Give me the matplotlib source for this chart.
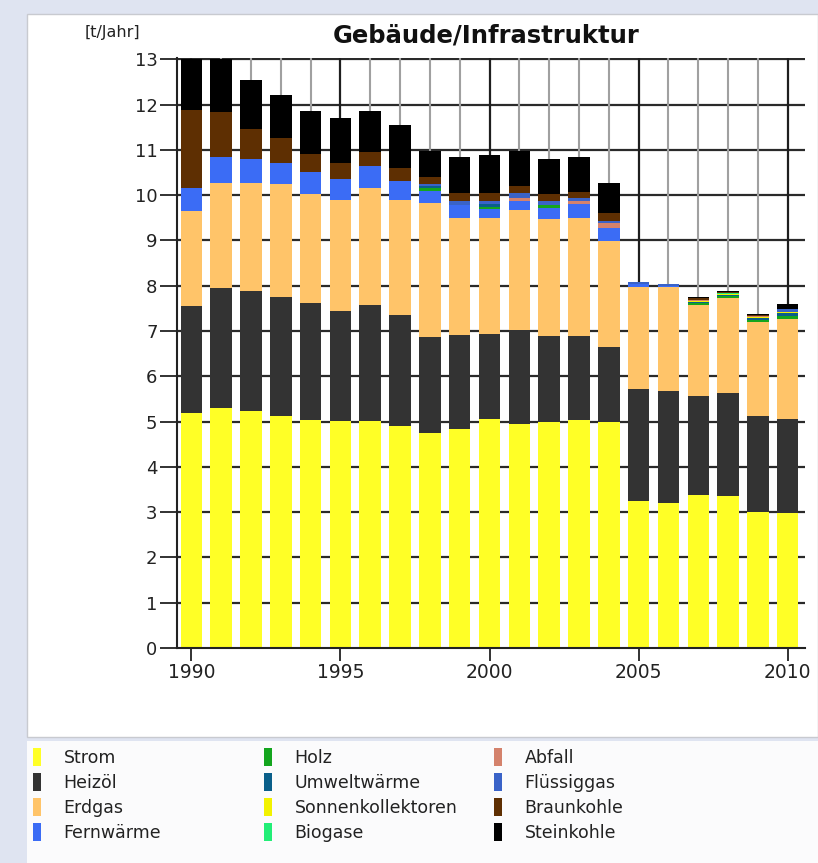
import matplotlib
matplotlib.use("Agg")
import matplotlib.pyplot as plt
from matplotlib.patches import Rectangle, Patch
import numpy as np

years = list(range(1990, 2011))

strom = [5.18, 5.31, 5.23, 5.12, 5.04, 5.02, 5.01, 4.91, 4.75, 4.84, 5.06,
         4.95, 5.00, 5.04, 4.99, 3.25, 3.20, 3.39, 3.36, 3.00, 2.98]
heizoel = [2.38, 2.65, 2.66, 2.64, 2.58, 2.43, 2.56, 2.44, 2.12, 2.07, 1.87,
           2.07, 1.90, 1.86, 1.65, 2.47, 2.48, 2.18, 2.28, 2.13, 2.08]
erdgas = [2.09, 2.32, 2.39, 2.48, 2.40, 2.44, 2.60, 2.54, 2.95, 2.58, 2.56,
          2.65, 2.57, 2.59, 2.35, 2.26, 2.29, 2.00, 2.09, 2.08, 2.20]
fernwaerme = [0.52, 0.56, 0.53, 0.48, 0.49, 0.47, 0.47, 0.42, 0.27, 0.29, 0.21,
              0.20, 0.25, 0.31, 0.28, 0.05, 0.03, 0.00, 0.00, 0.00, 0.00]
holz = [0, 0, 0, 0, 0, 0, 0, 0, 0.06, 0, 0.05,
        0, 0.06, 0, 0, 0, 0, 0.04, 0.04, 0.04, 0.07]
umweltwaerme = [0, 0, 0, 0, 0, 0, 0, 0, 0.05, 0, 0.05,
                0, 0, 0, 0, 0, 0, 0.03, 0.03, 0.03, 0.06]
sonnenkollektoren = [0, 0, 0, 0, 0, 0, 0, 0, 0, 0, 0,
                     0, 0, 0, 0, 0, 0, 0.02, 0.02, 0.02, 0.02]
biogase = [0, 0, 0, 0, 0, 0, 0, 0, 0, 0, 0,
           0, 0, 0, 0, 0, 0, 0.01, 0.01, 0.01, 0]
abfall = [0, 0, 0, 0, 0, 0, 0, 0, 0, 0, 0,
          0.06, 0, 0.07, 0.12, 0, 0, 0.02, 0.01, 0.02, 0.02]
fluessiggas = [0, 0, 0, 0, 0, 0, 0, 0, 0.05, 0.09, 0.08,
               0.12, 0.09, 0.06, 0.04, 0.05, 0.04, 0, 0, 0, 0.05]
braunkohle = [1.71, 0.99, 0.66, 0.55, 0.41, 0.36, 0.32, 0.30, 0.15, 0.18, 0.16,
              0.15, 0.15, 0.15, 0.18, 0, 0, 0.03, 0.02, 0.02, 0]
steinkohle = [1.12, 1.17, 1.07, 0.95, 0.94, 0.99, 0.90, 0.94, 0.57, 0.79, 0.85,
              0.77, 0.77, 0.76, 0.67, 0, 0, 0.03, 0.02, 0.02, 0.11]

labels = ["Strom", "Heizöl", "Erdgas", "Fernwärme", "Holz", "Umweltwärme",
          "Sonnenkollektoren", "Biogase", "Abfall", "Flüssiggas",
          "Braunkohle", "Steinkohle"]
series = [strom, heizoel, erdgas, fernwaerme, holz, umweltwaerme,
          sonnenkollektoren, biogase, abfall, fluessiggas, braunkohle, steinkohle]
colors = ["#ffff26", "#333333", "#ffc469", "#3b6cf5", "#14a51e", "#0a5f8a",
          "#f2f200", "#22ee77", "#d4826c", "#3a63c8", "#5e2f02", "#000000"]

plt.rcParams['font.family'] = ['DejaVu Sans']

fig = plt.figure(figsize=(8.18, 8.63), dpi=100)
fig.patch.set_facecolor('#dfe4f1')
W, H = 818, 863
# white chart panel
fig.patches.append(Rectangle((27 / W, 1 - 737 / H), (W - 27) / W, (737 - 14) / H,
                             transform=fig.transFigure, facecolor='white',
                             edgecolor='#c8cad0', linewidth=1.0, zorder=-10))
# legend area
fig.patches.append(Rectangle((27 / W, 0), (W - 27) / W, (H - 741) / H,
                             transform=fig.transFigure, facecolor='#fbfbfc',
                             edgecolor='none', zorder=-10))

ax = fig.add_axes([177 / W, 1 - 648 / H, (805 - 177) / W, (648 - 58) / H])
ax.set_facecolor('white')

x = np.array(years)
bottom = np.zeros(len(years))
for vals, c in zip(series, colors):
    v = np.array(vals, dtype=float)
    ax.bar(x, v, bottom=bottom, width=0.72, color=c, linewidth=0, zorder=3)
    bottom += v

ax.set_xlim(1989.52, 2010.58)
ax.set_ylim(0, 13.03)

# grid
for yv in range(1, 14):
    ax.axhline(yv, color='#2a2a2a', linewidth=1.6, zorder=1)
for yr in years:
    major = (yr % 5 == 0)
    ax.axvline(yr, color='#1e1e1e' if major else '#a0a0a0',
               linewidth=1.6 if major else 1.5, zorder=1)

ax.set_yticks(range(0, 14))
ax.set_xticks([1990, 1995, 2000, 2005, 2010])
ax.tick_params(axis='y', length=12, width=1.3, labelsize=13, pad=2, color='#222222')
ax.tick_params(axis='x', length=9, width=1.3, labelsize=13.5, pad=2, color='#222222')
for lab in ax.get_xticklabels() + ax.get_yticklabels():
    lab.set_color('#222222')
for s in ['top', 'right']:
    ax.spines[s].set_visible(False)
for s in ['left', 'bottom']:
    ax.spines[s].set_linewidth(1.5)
    ax.spines[s].set_color('#222222')
    ax.spines[s].set_zorder(4)

ax.set_title("Gebäude/Infrastruktur", fontsize=17.5, fontweight='bold',
             color='#111111', pad=11, x=0.492)
fig.text(85 / W, 1 - 33 / H, "[t/Jahr]", fontsize=11.5, color='#222222',
         ha='left', va='center')

# legends (three columns)
col_x = [33 / W, 264 / W, 494 / W]
for ci in range(3):
    handles = [Patch(facecolor=colors[i], edgecolor='none') for i in range(ci * 4, ci * 4 + 4)]
    fig.legend(handles, labels[ci * 4: ci * 4 + 4], loc='upper left',
               bbox_to_anchor=(col_x[ci], 1 - 748 / H), frameon=False,
               fontsize=12.5, handlelength=0.45, handleheight=1.2,
               handletextpad=1.3, labelspacing=0.36, borderpad=0,
               borderaxespad=0, labelcolor='#222222')

fig.savefig("out.png", dpi=100, facecolor=fig.get_facecolor())
